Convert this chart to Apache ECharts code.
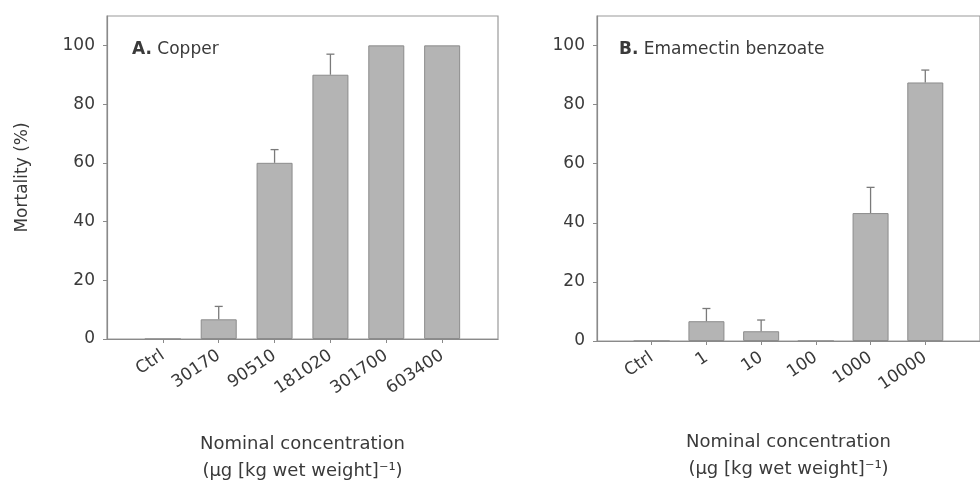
<!DOCTYPE html>
<html>
<head>
<meta charset="utf-8">
<script src="https://cdn.jsdelivr.net/npm/echarts@6/dist/echarts.min.js"></script>
<style>html,body{margin:0;padding:0;background:#fff}#c{width:980px;height:490px}</style>
</head>
<body>
<div id="c"></div>
<script>
// ---- data ----
var catsA = ['Ctrl', '30170', '90510', '181020', '301700', '603400'];
var valsA = [0, 6.7, 60, 90, 100, 100];
var errA  = [0, 4.4, 4.5, 7, 0, 0];

var catsB = ['Ctrl', '1', '10', '100', '1000', '10000'];
var valsB = [0, 6.7, 3.3, 0, 43.3, 87.5];
var errB  = [0, 4.3, 3.8, 0, 8.7, 4.2];

var yTicks = [0, 20, 40, 60, 80, 100];
var yMax = 110;

var titleA = 'Copper';
var titleB = 'Emamectin benzoate';
var yName = 'Mortality (%)';
var xName = 'Nominal concentration\n(µg [kg wet weight]⁻¹)';

// ---- build ----
var FONT = 'DejaVu Sans';
var TXT = '#3a3a3a';
var AX = '#8a8a8a';

function pad(arr, fill) { return [fill].concat(arr, [fill]); }
var showCat = function (idx, val) { return val !== ''; };

function xAxis(gi, cats) {
  return {
    type: 'category', gridIndex: gi, data: pad(cats, ''), boundaryGap: false,
    axisLine: { lineStyle: { color: AX, width: 1.2 } },
    axisTick: { interval: showCat, length: 4, lineStyle: { color: AX } },
    axisLabel: { interval: showCat, rotate: 34, margin: 15, color: TXT, fontFamily: FONT, fontSize: 17 },
    name: xName, nameLocation: 'middle', nameGap: gi === 0 ? 92 : 88,
    nameTextStyle: { color: TXT, fontFamily: FONT, fontSize: 18, lineHeight: 27, align: 'center', verticalAlign: 'top' },
    splitLine: { show: false }
  };
}
function yAxis(gi) {
  return {
    type: 'value', gridIndex: gi, min: 0, max: yMax, interval: 20,
    axisLine: { show: true, lineStyle: { color: AX, width: 1.2 } },
    axisTick: { show: true, length: 4, lineStyle: { color: AX }, customValues: yTicks },
    axisLabel: { color: TXT, fontFamily: FONT, fontSize: 17, margin: 12,
      customValues: yTicks },
    splitLine: { show: false },
    name: gi === 0 ? yName : '', nameLocation: 'middle', nameGap: 76,
    nameTextStyle: { color: TXT, fontFamily: FONT, fontSize: 17 }
  };
}
function bars(gi, vals) {
  return {
    type: 'bar', xAxisIndex: gi, yAxisIndex: gi, data: pad(vals, '-'), barWidth: 36,
    itemStyle: { color: '#b4b4b4', borderColor: '#8c8c8c', borderWidth: 1 },
    silent: true, z: 2
  };
}
function errs(gi, vals, es) {
  var d = [];
  for (var i = 0; i < vals.length; i++) {
    if (es[i] > 0) d.push([i + 1, vals[i], vals[i] + es[i]]);
  }
  return {
    type: 'custom', xAxisIndex: gi, yAxisIndex: gi, data: d, silent: true, z: 3,
    renderItem: function (params, api) {
      var lo = api.coord([api.value(0), api.value(1)]);
      var hi = api.coord([api.value(0), api.value(2)]);
      var c = 4;
      var st = { stroke: '#7a7a7a', lineWidth: 1.3 };
      return { type: 'group', children: [
        { type: 'line', shape: { x1: lo[0], y1: lo[1], x2: hi[0], y2: hi[1] }, style: st },
        { type: 'line', shape: { x1: hi[0] - c, y1: hi[1], x2: hi[0] + c, y2: hi[1] }, style: st }
      ] };
    }
  };
}

var chart = echarts.init(document.getElementById('c'), null, { renderer: 'canvas' });
chart.setOption({
  backgroundColor: '#ffffff',
  animation: false,
  title: [
    { text: '{b|A.} ' + titleA, left: 127, top: 36,
      textStyle: { color: TXT, fontFamily: FONT, fontSize: 17, fontWeight: 'normal',
        rich: { b: { fontWeight: 'bold', fontFamily: FONT, fontSize: 17, color: TXT } } } },
    { text: '{b|B.} ' + titleB, left: 614, top: 36,
      textStyle: { color: TXT, fontFamily: FONT, fontSize: 17, fontWeight: 'normal',
        rich: { b: { fontWeight: 'bold', fontFamily: FONT, fontSize: 17, color: TXT } } } }
  ],
  grid: [
    { left: 107, top: 16, right: 482, bottom: 149, show: true, borderColor: '#9a9a9a', borderWidth: 1.2, containLabel: false },
    { left: 597, top: 16, right: -8, bottom: 149, show: true, borderColor: '#9a9a9a', borderWidth: 1.2, containLabel: false }
  ],
  xAxis: [xAxis(0, catsA), xAxis(1, catsB)],
  yAxis: [yAxis(0), yAxis(1)],
  series: [bars(0, valsA), errs(0, valsA, errA), bars(1, valsB), errs(1, valsB, errB)]
});
</script>
</body>
</html>
